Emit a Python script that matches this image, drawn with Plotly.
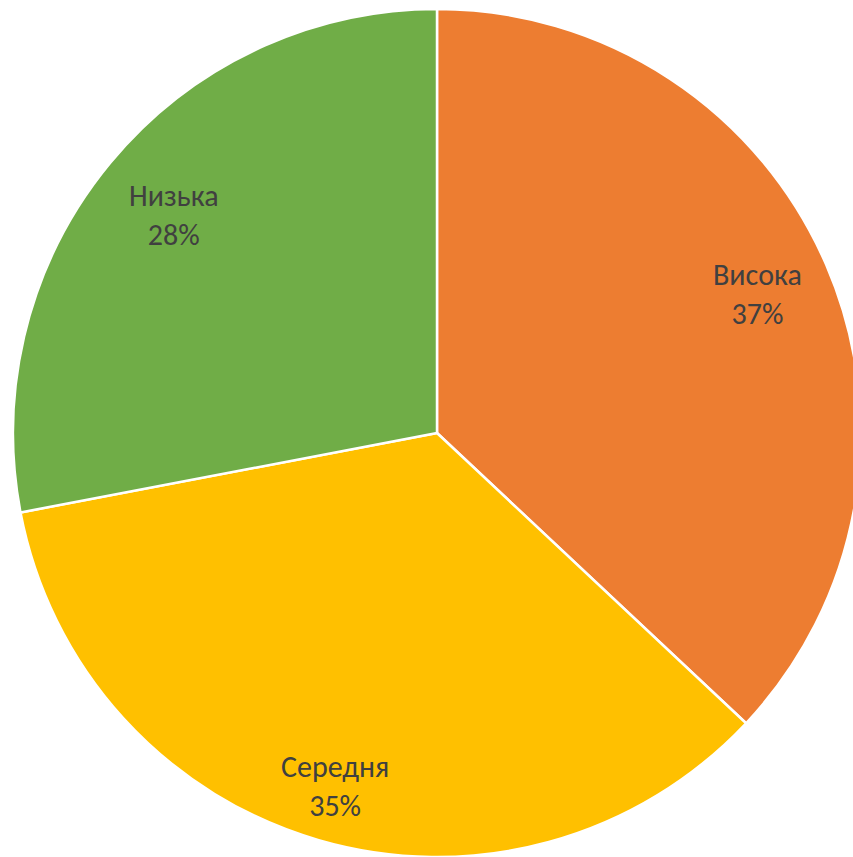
import math
import plotly.graph_objects as go

# Рівні (порядок за годинниковою стрілкою від 12 години)
levels = ["Висока", "Середня", "Низька"]
shares = [37, 35, 28]
colors = ["#ED7D31", "#FFC000", "#70AD47"]

# Canvas is a little larger than the window so the disc can run off the right/bottom edge
W, H = 880, 870
CX, CY, R = 437, 433, 424          # disc centre and radius in pixels
label_r = [0.823, 0.866, 0.805]    # radial placement of each label (fraction of radius)

fig = go.Figure(
    go.Pie(
        labels=levels,
        values=shares,
        sort=False,
        direction="clockwise",
        rotation=0,
        marker=dict(colors=colors, line=dict(color="white", width=2.5)),
        textinfo="none",
        hoverinfo="skip",
        showlegend=False,
        domain=dict(
            x=[(CX - R) / W, (CX + R) / W],
            y=[1 - (CY + R) / H, 1 - (CY - R) / H],
        ),
    )
)

# Category + percentage labels, placed along each slice's mid-angle
total = sum(shares)
start = 0.0
annotations = []
for name, v, fr in zip(levels, shares, label_r):
    frac = v / total
    mid = (start + frac / 2) * 2 * math.pi
    start += frac
    px = CX + fr * R * math.sin(mid)
    py = CY - fr * R * math.cos(mid)
    annotations.append(
        dict(
            x=px / W,
            y=1 - py / H,
            xref="paper",
            yref="paper",
            text=f"{name}<br>{round(frac * 100)}%",
            showarrow=False,
            xanchor="center",
            yanchor="middle",
            font=dict(family="Carlito, Calibri, Lato, sans-serif", size=30, color="#404040"),
        )
    )

fig.update_layout(
    width=W,
    height=H,
    margin=dict(l=0, r=0, t=0, b=0),
    paper_bgcolor="white",
    plot_bgcolor="white",
    annotations=annotations,
)

fig.write_html(
    "out.html",
    config={"displayModeBar": False, "staticPlot": True},
    post_script=(
        "document.documentElement.style.overflow='hidden';"
        "document.body.style.overflow='hidden';"
        "document.body.style.margin='0';"
    ),
)
